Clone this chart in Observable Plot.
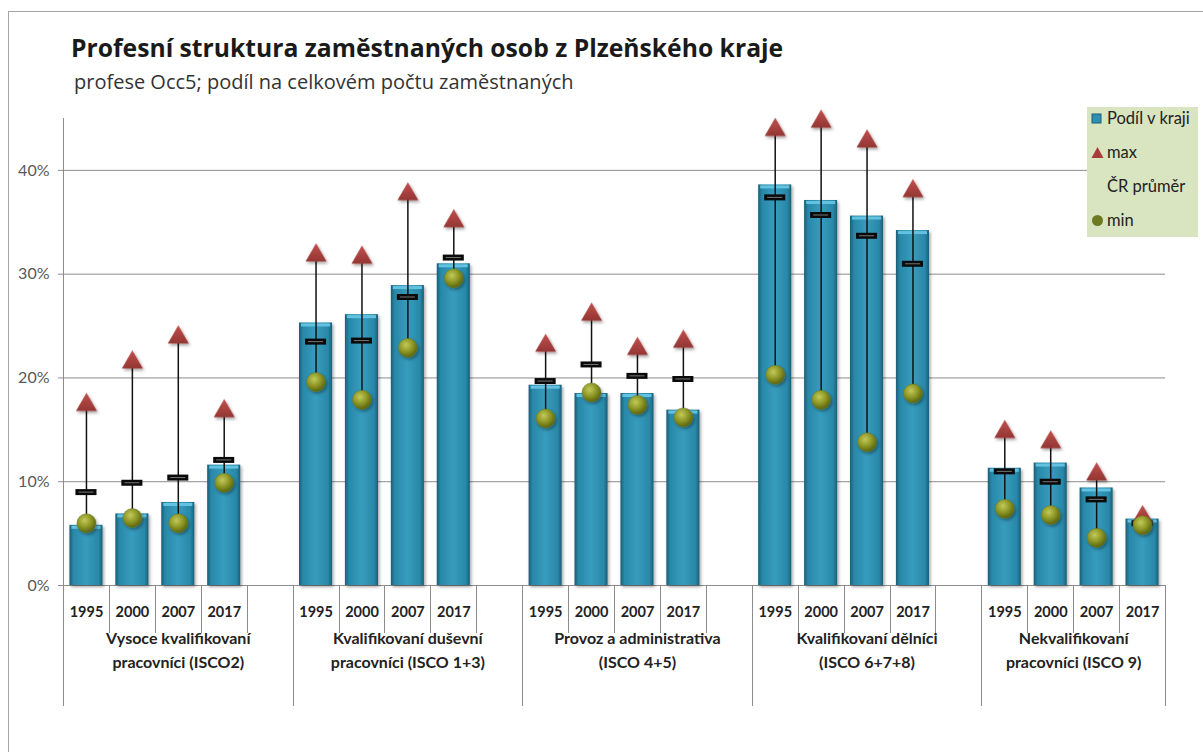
<!DOCTYPE html>
<html>
<head>
<meta charset="utf-8">
<script src="https://cdn.jsdelivr.net/npm/d3@7"></script>
<script src="https://cdn.jsdelivr.net/npm/@observablehq/plot@0.6"></script>
<style>
  html, body { margin: 0; padding: 0; background: #fff; overflow: hidden; }
  #wrap { position: relative; width: 1203px; height: 752px; overflow: hidden; font-family: Lato, "Open Sans", sans-serif; }
  #frame { position: absolute; left: 8px; top: 11px; width: 1220px; height: 770px; border: 1px solid #a6a6a6; box-sizing: border-box; }
  #title { position: absolute; left: 71px; top: 36px; font-family: "Open Sans", sans-serif; font-size: 24.7px; line-height: 1; font-weight: 700; color: #1a1a1a; white-space: nowrap; }
  #subtitle { position: absolute; left: 74px; top: 72px; font-family: "Open Sans", sans-serif; font-size: 20px; line-height: 1; color: #333; white-space: nowrap; }
  #chart { position: absolute; left: 0; top: 0; }
  #legend { position: absolute; left: 1087px; top: 107px; width: 111px; height: 130px; background: #d9e4c1; font-size: 16.5px; color: #222; }
  #legend .item { position: absolute; left: 4px; height: 20px; display: flex; align-items: center; gap: 3px; white-space: nowrap; }
</style>
</head>
<body>
<div id="wrap">
  <div id="frame"></div>
  <div id="chart"></div>
  <div id="title">Profesní struktura zaměstnaných osob z Plzeňského kraje</div>
  <div id="subtitle">profese Occ5; podíl na celkovém počtu zaměstnaných</div>
  <div id="legend"></div>
</div>
<script>
// ---- data ----
const groups = [
  "Vysoce kvalifikovaní\npracovníci (ISCO2)",
  "Kvalifikovaní duševní\npracovníci (ISCO 1+3)",
  "Provoz a administrativa\n(ISCO 4+5)",
  "Kvalifikovaní dělníci\n(ISCO 6+7+8)",
  "Nekvalifikovaní\npracovníci (ISCO 9)"
];
const years = ["1995", "2000", "2007", "2017"];
// Podíl v kraji (%)
const podil = [
  [5.8, 6.9, 8.0, 11.6],
  [25.3, 26.1, 28.9, 31.0],
  [19.3, 18.5, 18.5, 16.9],
  [38.6, 37.1, 35.6, 34.2],
  [11.3, 11.8, 9.4, 6.4]
];
// max (%)
const maxV = [
  [17.4, 21.5, 23.9, 16.8],
  [31.8, 31.6, 37.7, 35.1],
  [23.1, 26.1, 22.8, 23.5],
  [43.9, 44.7, 42.8, 38.0],
  [14.8, 13.8, 10.7, 6.6]
];
// ČR průměr (%)
const prumer = [
  [9.0, 9.9, 10.4, 12.1],
  [23.5, 23.6, 27.8, 31.6],
  [19.7, 21.3, 20.2, 19.9],
  [37.4, 35.7, 33.7, 31.0],
  [11.0, 10.0, 8.3, 6.0]
];
// min (%)
const minV = [
  [6.0, 6.5, 6.0, 9.9],
  [19.6, 17.9, 22.9, 29.6],
  [16.1, 18.6, 17.4, 16.2],
  [20.3, 17.9, 13.8, 18.5],
  [7.4, 6.8, 4.6, 5.8]
];
const yTicks = [0, 10, 20, 30, 40];

// ---- build table ----
const slots = [];
const rows = [];
groups.forEach((g, gi) => {
  years.forEach((y, yi) => {
    const key = `g${gi}-${y}`;
    slots.push(key);
    rows.push({slot: key, group: gi, year: y, podil: podil[gi][yi], max: maxV[gi][yi], avg: prumer[gi][yi], min: minV[gi][yi]});
  });
  if (gi < groups.length - 1) slots.push(`gap${gi}`);
});
const groupRows = groups.map((g, gi) => ({group: gi, label: g, slot: gi < groups.length - 1 ? `g${gi}-2007` : `g${gi}-2000`, last: gi === groups.length - 1}));
const groupStartIdx = new Set();
groups.forEach((g, gi) => groupStartIdx.add(slots.indexOf(`g${gi}-1995`)));

const W = 1203, H = 752, ML = 63, MR = 38, MT = 118, MB = 167;
const step = (W - ML - MR) / slots.length;

// defs mark (gradients / shadows)
function defsMark() {
  const defs = d3.create("svg:defs");
  const bg = defs.append("linearGradient").attr("id", "barGrad").attr("x1", 0).attr("x2", 1).attr("y1", 0).attr("y2", 0);
  [[0, "#1a5e77"], [0.12, "#2988a8"], [0.5, "#379cbe"], [0.88, "#2988a8"], [1, "#1a5e77"]]
    .forEach(([o, c]) => bg.append("stop").attr("offset", o).attr("stop-color", c));
  const rg = defs.append("radialGradient").attr("id", "minGrad").attr("cx", 0.4).attr("cy", 0.35).attr("r", 0.65);
  [[0, "#c3c95a"], [0.55, "#8d9725"], [1, "#5b6410"]]
    .forEach(([o, c]) => rg.append("stop").attr("offset", o).attr("stop-color", c));
  const tg = defs.append("linearGradient").attr("id", "maxGrad").attr("x1", 0).attr("x2", 0).attr("y1", 0).attr("y2", 1);
  [[0, "#c0504d"], [1, "#943634"]]
    .forEach(([o, c]) => tg.append("stop").attr("offset", o).attr("stop-color", c));
  const f = defs.append("filter").attr("id", "shadow").attr("x", "-50%").attr("y", "-50%").attr("width", "200%").attr("height", "200%");
  f.append("feDropShadow").attr("dx", 1.5).attr("dy", 2).attr("stdDeviation", 1.5).attr("flood-color", "#000").attr("flood-opacity", 0.35);
  return defs.node();
}

// category dividers below the axis
function dividersMark(index, scales, values, dims) {
  const g = d3.create("svg:g").attr("stroke", "#8c8c8c").attr("stroke-width", 1);
  const y0 = dims.height - dims.marginBottom;
  for (let i = 0; i <= slots.length; i++) {
    const x = Math.round(dims.marginLeft + i * step) + 0.5;
    const long = groupStartIdx.has(i) || i === slots.length;
    g.append("line").attr("x1", x).attr("x2", x).attr("y1", y0).attr("y2", y0 + (long ? 121 : 48));
  }
  return g.node();
}

const chart = Plot.plot({
  width: W,
  height: H,
  marginLeft: ML,
  marginRight: MR,
  marginTop: MT,
  marginBottom: MB,
  style: {fontFamily: "Lato, 'Open Sans', sans-serif", background: "transparent", overflow: "visible"},
  x: {type: "band", domain: slots, paddingInner: 0.28, paddingOuter: 0.14, round: false, axis: null},
  y: {domain: [0, 45], ticks: yTicks, tickFormat: d => d + "%"},
  marks: [
    defsMark,
    Plot.gridY(yTicks.filter(d => d > 0), {stroke: "#8c8c8c", strokeOpacity: 1}),
    Plot.axisY(yTicks, {tickSize: 5, tickPadding: 9, fontSize: 16, color: "#595959", stroke: "#8c8c8c", label: null, tickFormat: d => d + "%"}),
    Plot.frame({anchor: "left", stroke: "#8c8c8c"}),
    Plot.ruleY([0], {stroke: "#8c8c8c"}),
    Plot.barY(rows, {x: "slot", y: "podil", fill: "url(#barGrad)", className: "shadowed"}),
    Plot.tickY(rows, {x: "slot", y: "podil", stroke: "#62c2df", strokeWidth: 3, dy: 2, insetLeft: 2, insetRight: 2}),
    Plot.ruleX(rows, {x: "slot", y1: "min", y2: "max", stroke: "#111", strokeWidth: 1.5}),
    Plot.tickY(rows, {x: "slot", y: "avg", stroke: "#0a0a0a", strokeWidth: 6, insetLeft: 6, insetRight: 6}),
    Plot.tickY(rows, {x: "slot", y: "avg", stroke: "#777", strokeWidth: 1, insetLeft: 9, insetRight: 9}),
    Plot.dot(rows, {x: "slot", y: "max", symbol: "triangle", r: 7.8, fill: "url(#maxGrad)", stroke: "none", className: "shadowed"}),
    Plot.dot(rows, {x: "slot", y: "min", r: 9.5, fill: "url(#minGrad)", stroke: "#6b7a2a", strokeWidth: 0.5, className: "shadowed"}),
    dividersMark,
    Plot.text(rows, {x: "slot", text: "year", frameAnchor: "bottom", dy: 31, fontSize: 14.5, fontWeight: 700, fill: "#222"}),
    Plot.text(groupRows.filter(d => !d.last), {x: "slot", text: "label", frameAnchor: "bottom", lineAnchor: "middle", dy: 63, lineHeight: 1.5, fontSize: 16, fontWeight: 700, fill: "#222"}),
    Plot.text(groupRows.filter(d => d.last), {x: "slot", text: "label", frameAnchor: "bottom", lineAnchor: "middle", dy: 63, dx: step / 2, lineHeight: 1.5, fontSize: 16, fontWeight: 700, fill: "#222"})
  ]
});
d3.select(chart).selectAll(".shadowed").attr("filter", "url(#shadow)");
document.getElementById("chart").appendChild(chart);

// ---- legend ----
const legendItems = [
  {label: "Podíl v kraji", kind: "bar"},
  {label: "max", kind: "tri"},
  {label: "ČR průměr", kind: "none"},
  {label: "min", kind: "dot"}
];
const legend = d3.select("#legend");
legendItems.forEach((it, i) => {
  const item = legend.append("div").attr("class", "item").style("top", (1 + i * 34) + "px");
  const s = item.append("svg").attr("width", 13).attr("height", 13);
  if (it.kind === "bar") s.append("rect").attr("x", 1).attr("y", 2).attr("width", 9).attr("height", 9).attr("fill", "#2f8fb0").attr("stroke", "#1b5f78");
  if (it.kind === "tri") s.append("path").attr("d", "M6.5,1L12.5,12H0.5Z").attr("fill", "#a83c3a");
  if (it.kind === "dot") s.append("circle").attr("cx", 6.5).attr("cy", 6.5).attr("r", 5.5).attr("fill", "#6d7a22");
  item.append("span").text(it.label);
});
</script>
</body>
</html>
